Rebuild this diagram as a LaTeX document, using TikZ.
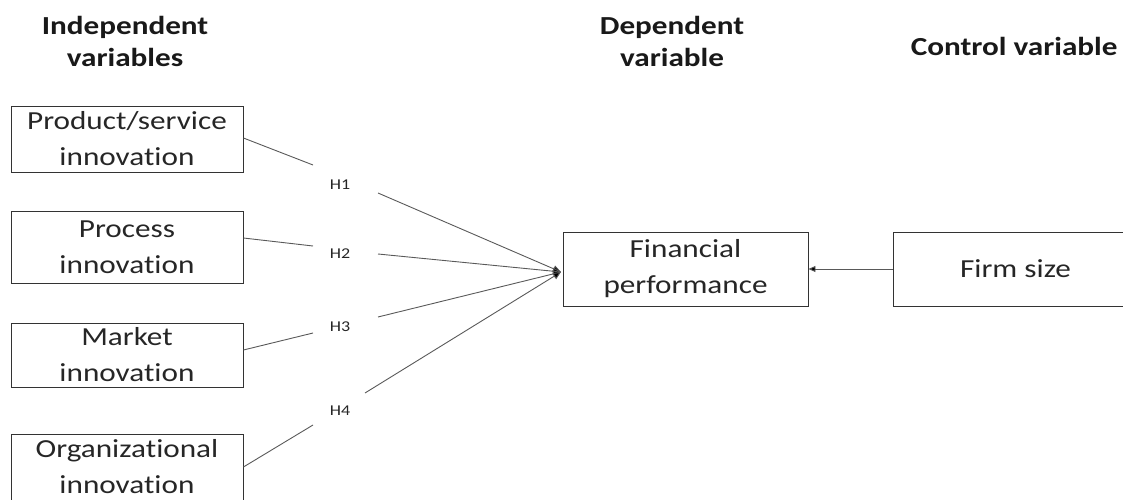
\documentclass[tikz,border=0pt]{standalone}
\usepackage{fontspec}
\setmainfont{Carlito}[FakeStretch=1.2,Ligatures=NoCommon]
\usetikzlibrary{arrows.meta}
\begin{document}
\begin{tikzpicture}[x=1pt,y=-1pt,
  box/.style={draw=black!80,line width=0.9pt,inner sep=0pt,align=center,font=\fontsize{26}{36}\selectfont,text=black!85},
  head/.style={align=center,font=\bfseries\fontsize{26}{32}\selectfont,text=black!90},
  hlab/.style={font=\fontsize{15}{17}\selectfont,text=black!85},
  conn/.style={draw=black!65,line width=0.9pt},
  arr/.style={conn,-{Triangle[length=8pt,width=7pt,fill=black]}}]
\useasboundingbox (0,0) rectangle (1123,500);
\node[head] (hind) at (125,41) {Independent\\variables};
\node[head] (hdep) at (672,41) {Dependent\\variable};
\node[head,anchor=east] (hctl) at (1121,46) {Control variable};
\node[box,minimum width=232pt,minimum height=66pt] (b1) at (127,139) {Product/service\\innovation};
\node[box,minimum width=232pt,minimum height=72pt] (b2) at (127,247) {Process\\innovation};
\node[box,minimum width=232pt,minimum height=64pt] (b3) at (127,355) {Market\\innovation};
\node[box,minimum width=232pt,minimum height=66pt] (b4) at (127,467) {Organizational\\innovation};
\node[box,minimum width=245pt,minimum height=74pt] (fin) at (685.5,269) {Financial\\performance};
\node[box,minimum width=245pt,minimum height=74pt] (firm) at (1015.5,269) {Firm size};
\node[hlab] (h1) at (340,185) {H1};
\node[hlab] (h2) at (340,254) {H2};
\node[hlab] (h3) at (340,327) {H3};
\node[hlab] (h4) at (340,411) {H4};
\coordinate (tip) at (561,272);
\draw[conn] (b1.east |- 0,138) -- (313,165);
\draw[arr] (378,193) -- (tip);
\draw[conn] (b2.east |- 0,238) -- (313,246);
\draw[arr] (378,254) -- (tip);
\draw[conn] (b3.east |- 0,350) -- (313,333);
\draw[arr] (378,317) -- (tip);
\draw[conn] (b4.east |- 0,467) -- (313,425);
\draw[arr] (365,393) -- (tip);
\draw[conn,-{Triangle[length=7pt,width=6pt,fill=black]}] (firm.west) -- (fin.east);
\end{tikzpicture}
\end{document}
